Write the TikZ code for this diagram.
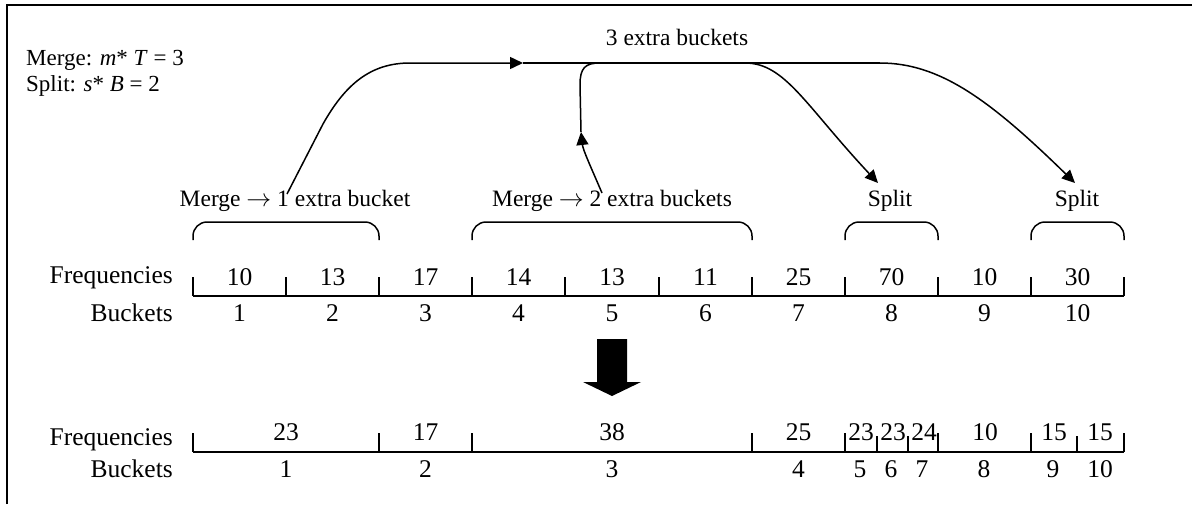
\documentclass[tikz,border=0pt]{standalone}
\usepackage{fontspec}
\setmainfont{Liberation Serif}
\usetikzlibrary{arrows.meta}
\begin{document}
\begin{tikzpicture}[x=1pt,y=-1pt,
  font=\fontsize{25.5}{30}\selectfont,
  lbl/.style={anchor=base,inner sep=0pt},
  small/.style={font=\fontsize{23.5}{28}\selectfont},
  axis/.style={line width=1.8pt},
  brace/.style={line width=1.5pt, rounded corners=14pt},
  conn/.style={line width=1.5pt},
  tip/.style={-{Triangle[length=13pt,width=12pt]}}]
\useasboundingbox (0,0) rectangle (1192,504);
% frame
\draw[line width=2pt] (7,504) -- (7,5) -- (1192,5);
% legend
\node[lbl,anchor=base west,font=\fontsize{23}{28}\selectfont] (leg1) at (26,65) {Merge: \textit{m}* \textit{T} = 3};
\node[lbl,anchor=base west,font=\fontsize{23}{28}\selectfont] (leg2) at (26,91) {Split: \textit{s}* \textit{B} = 2};
\node[lbl,small] (extra) at (677,45) {3 extra buckets};
% brace labels
\node[lbl,small] (m1lab) at (295,206) {Merge $\rightarrow$ 1 extra bucket};
\node[lbl,small] (m2lab) at (612,206) {Merge $\rightarrow$ 2 extra buckets};
\node[lbl,small] (s1lab) at (890,206) {Split};
\node[lbl,small] (s2lab) at (1077,206) {Split};
% braces
\draw[brace] (193,240) -- (193,222) -- (379,222) -- (379,240);
\draw[brace] (472,240) -- (472,222) -- (752,222) -- (752,240);
\draw[brace] (845,240) -- (845,222) -- (938,222) -- (938,240);
\draw[brace] (1031,240) -- (1031,222) -- (1124,222) -- (1124,240);
% top axis
\node[lbl,anchor=base east] (f1) at (173,283) {Frequencies};
\node[lbl,anchor=base east] (b1) at (173,321) {Buckets};
\draw[axis] (193,296) -- (1124,296);
\foreach \x in {193,286,379,472,565,659,752,845,938,1031,1124}
  \draw[axis] (\x,277) -- (\x,296);
\foreach \x/\f/\b in {239.5/10/1,332.5/13/2,425.5/17/3,518.5/14/4,612/13/5,705.5/11/6,798.5/25/7,891.5/70/8,984.5/10/9,1077.5/30/10}{
  \node[lbl] at (\x,285) {\f};
  \node[lbl] at (\x,321) {\b};
}
% block arrow
\fill (597,339) -- (627,339) -- (627,382) -- (641,382) -- (612,396) -- (583,382) -- (597,382) -- cycle;
% bottom axis
\node[lbl,anchor=base east] (f2) at (173,445) {Frequencies};
\node[lbl,anchor=base east] (b2) at (173,477) {Buckets};
\draw[axis] (193,452) -- (1124,452);
\foreach \x in {193,379,472,752,845,938,1031,1124}
  \draw[axis] (\x,433) -- (\x,452);
\foreach \x in {877,908,1077}
  \draw[axis] (\x,436) -- (\x,452);
\foreach \x/\f in {286/23,425.5/17,612/38,798.5/25,861/23,893/23,924/24,985/10,1054/15,1100/15}
  \node[lbl] at (\x,440) {\f};
\foreach \x/\b in {286/1,425.5/2,612/3,798.5/4,860/5,891/6,922/7,984/8,1053/9,1100/10}
  \node[lbl] at (\x,477) {\b};
% connectors
\coordinate (a1) at (287,194);
\coordinate (aj) at (523,63);
\coordinate (J) at (600,63);
\coordinate (bs) at (602,193);
\coordinate (bt) at (581,132);
\coordinate (c0) at (745,63);
\coordinate (d0) at (880,63);
\coordinate (s1tip) at (878,183);
\coordinate (s2tip) at (1075,183);
\draw[conn,tip] (a1) -- (323,124) .. controls (345,85) and (370,63) .. (410,63) -- (aj);
\draw[conn] (aj) -- (J) -- (d0);
\draw[conn,tip] (bs) .. controls (590,165) and (583,150) .. (bt);
\draw[conn] (bt) -- (580,85) .. controls (580,68) and (585,63) .. (J);
\draw[conn,tip] (c0) .. controls (785,63) and (805,105) .. (s1tip);
\draw[conn,tip] (d0) .. controls (940,63) and (990,100) .. (s2tip);
\end{tikzpicture}
\end{document}
